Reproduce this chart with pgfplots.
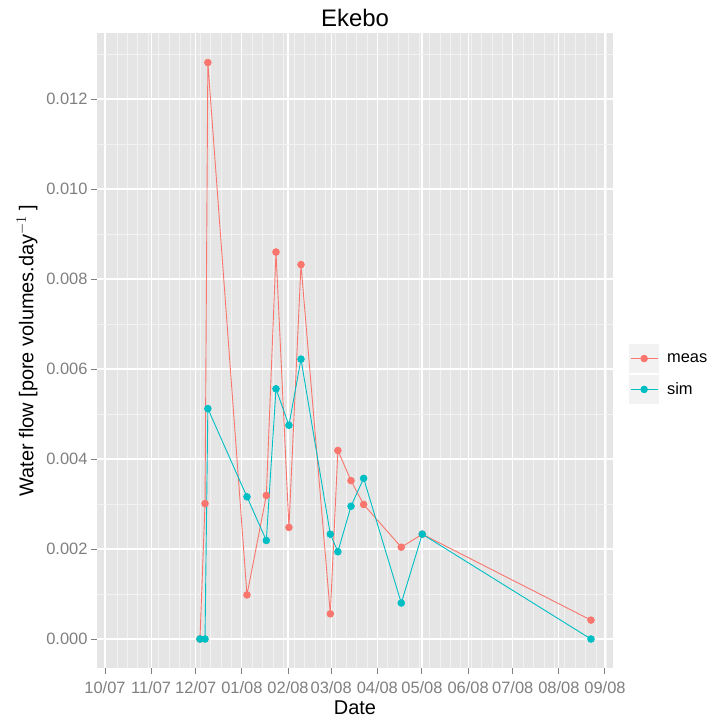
\documentclass[border=0pt]{standalone}
\usepackage{pgfplots}
\pgfplotsset{compat=1.18}
\usepackage{fontspec}
\setmainfont{Liberation Sans}
\definecolor{meas}{HTML}{F8766D}
\definecolor{sim}{HTML}{00BFC4}
\definecolor{panel}{HTML}{E5E5E5}
\definecolor{minorg}{HTML}{F2F2F2}
\definecolor{tickg}{HTML}{7F7F7F}
\begin{document}
\begin{tikzpicture}
\begin{axis}[
  name=ax,
  scale only axis,
  width=516bp, height=635bp,
  xmin=-5.4, xmax=341.4,
  ymin=-0.000644, ymax=0.013467,
  axis background/.style={fill=panel},
  axis line style={draw=none},
  xtick={0,31,61,92,123,152,183,213,244,274,305,336},
  xticklabels={10/07,11/07,12/07,01/08,02/08,03/08,04/08,05/08,06/08,07/08,08/08,09/08},
  minor xtick={8,15,22,29,36,43,50,57,64,71,78,85,99,106,113,120,127,134,141,148,155,162,169,176,190,197,204,211,218,225,232,239,246,253,260,267,281,288,295,302,309,316,323,330,337},
  ytick={0,0.002,0.004,0.006,0.008,0.010,0.012},
  minor ytick={0.001,0.003,0.005,0.007,0.009,0.011,0.013},
  scaled y ticks=false,
  yticklabel style={/pgf/number format/.cd, fixed, fixed zerofill, precision=3, assume math mode=true},
  grid=both,
  major grid style={white, line width=1.1bp},
  minor grid style={minorg, line width=0.6bp},
  tick align=outside,
  xtick pos=bottom, ytick pos=left,
  major tick length=6bp, minor tick length=0pt,
  tick style={tickg, line width=1bp},
  tick label style={font=\fontsize{16.5}{18}\selectfont, text=tickg},
  xticklabel style={yshift=-4bp},
  title={Ekebo},
  title style={font=\fontsize{24}{26}\selectfont, at={(axis description cs:0.5,1)}, anchor=south, yshift=-3bp},
  xlabel={Date},
  ylabel={Water flow [pore volumes.day$^{-1}$ ]},
  every axis x label/.style={at={(axis description cs:0.5,0)}, anchor=center, yshift=-40bp, font=\fontsize{20}{22}\selectfont},
  every axis y label/.style={at={(axis description cs:-0.1357,0.5)}, anchor=center, rotate=90, font=\fontsize{20}{22}\selectfont},
  legend style={at={(axis description cs:1,0.463)}, anchor=west, xshift=16bp, draw=none, fill=none, inner sep=0pt, row sep=2bp, font=\fontsize{16.5}{18}\selectfont, nodes={inner sep=0pt}},
  legend cell align=left,
  legend image code/.code={
    \fill[minorg] (0bp,-14bp) rectangle (29bp,14bp);
    \draw[mark repeat=2,mark phase=2,#1] plot coordinates {(1bp,0bp) (14.5bp,0bp) (28bp,0bp)};
  },
]
\addplot[meas, line width=0.9bp, mark=*, mark size=3.3bp, mark options={solid, fill=meas, draw=meas}] coordinates {
(63.8,0) (67.2,0.00301) (69.1,0.01281) (95.4,0.00098) (108.4,0.00319) (114.9,0.0086) (123.6,0.00248) (131.7,0.00832) (151.4,0.00056) (156.5,0.00419) (165.3,0.00352) (173.8,0.00299) (199.1,0.00204) (213.2,0.00233) (326.6,0.00042)
};
\addlegendentry{\hspace{8bp}meas}
\addplot[sim, line width=0.9bp, mark=*, mark size=3.3bp, mark options={solid, fill=sim, draw=sim}] coordinates {
(63.8,0) (67.2,0) (69.1,0.00512) (95.4,0.00316) (108.4,0.00219) (114.9,0.00556) (123.6,0.00475) (131.7,0.00622) (151.4,0.00233) (156.5,0.00194) (165.3,0.00295) (173.8,0.00357) (199.1,0.0008) (213.2,0.00233) (326.6,0)
};
\addlegendentry{\hspace{8bp}sim}
\end{axis}
\pgfresetboundingbox
\path[use as bounding box] ([xshift=-97bp,yshift=-54bp]ax.south west) rectangle ([xshift=97bp,yshift=33bp]ax.north east);
\end{tikzpicture}
\end{document}
